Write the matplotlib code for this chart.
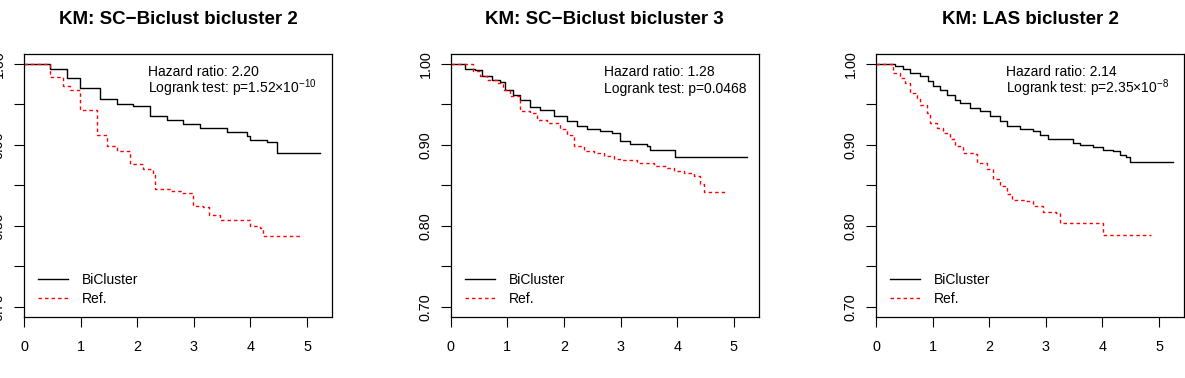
import matplotlib
matplotlib.use("Agg")
import matplotlib.pyplot as plt

plt.rcParams['font.family'] = ['Liberation Sans', 'DejaVu Sans']
plt.rcParams['mathtext.fontset'] = 'custom'
plt.rcParams['mathtext.rm'] = 'Liberation Sans'
plt.rcParams['mathtext.it'] = 'Liberation Sans'
plt.rcParams['mathtext.bf'] = 'Liberation Sans:bold'

titles = ["KM: SC\u2212Biclust bicluster 2", "KM: SC\u2212Biclust bicluster 3", "KM: LAS bicluster 2"]
hazard_text = ["Hazard ratio: 2.20", "Hazard ratio: 1.28", "Hazard ratio: 2.14"]
logrank_text = [r"Logrank test: p=1.52$\times$10$^{-10}$",
                "Logrank test: p=0.0468",
                r"Logrank test: p=2.35$\times$10$^{-8}$"]
legend_labels = ["BiCluster", "Ref."]

# Panel 1: SC-Biclust bicluster 2
p1_bic_t = [0, 0.25, 0.46, 0.754, 0.989, 1.343, 1.637, 1.932, 2.226, 2.52, 2.815, 3.11, 3.58, 3.93, 3.99, 4.29, 4.46, 5.22]
p1_bic_s = [1.0, 1.0, 0.9934, 0.9823, 0.970, 0.9569, 0.950, 0.9475, 0.9360, 0.9310, 0.9261, 0.9204, 0.9154, 0.9113, 0.9064, 0.9039, 0.890, 0.890]
p1_ref_t = [0, 0.25, 0.46, 0.695, 0.813, 0.989, 1.284, 1.46, 1.637, 1.873, 2.108, 2.285, 2.31, 2.58, 2.79, 2.99, 3.17, 3.26, 3.46, 3.96, 3.99, 4.17, 4.23, 4.88]
p1_ref_s = [1.0, 1.0, 0.984, 0.972, 0.968, 0.943, 0.912, 0.898, 0.892, 0.876, 0.870, 0.863, 0.845, 0.843, 0.841, 0.824, 0.823, 0.814, 0.807, 0.807, 0.800, 0.798, 0.787, 0.787]

# Panel 2: SC-Biclust bicluster 3
p2_bic_t = [0, 0.195, 0.254, 0.430, 0.548, 0.725, 0.873, 0.961, 1.108, 1.226, 1.403, 1.58, 1.816, 2.052, 2.229, 2.406, 2.642, 2.848, 2.995, 3.172, 3.467, 3.526, 3.88, 3.968, 5.236]
p2_bic_s = [1.0, 1.0, 0.9934, 0.9918, 0.9852, 0.9803, 0.977, 0.968, 0.9619, 0.9557, 0.9467, 0.9434, 0.9352, 0.929, 0.9238, 0.9197, 0.9168, 0.9148, 0.9045, 0.9016, 0.8984, 0.8934, 0.8934, 0.8852, 0.8852]
p2_ref_t = [0, 0.224, 0.401, 0.519, 0.637, 0.814, 0.932, 1.05, 1.226, 1.403, 1.521, 1.698, 1.934, 2.052, 2.17, 2.347, 2.524, 2.7, 2.877, 2.995, 3.29, 3.585, 3.821, 3.939, 4.116, 4.292, 4.41, 4.469, 4.853]
p2_ref_s = [1.0, 1.0, 0.9906, 0.9844, 0.9803, 0.9762, 0.968, 0.9598, 0.9414, 0.9393, 0.9311, 0.927, 0.9189, 0.9127, 0.8984, 0.8922, 0.8902, 0.8861, 0.882, 0.8811, 0.877, 0.8738, 0.8717, 0.8676, 0.8656, 0.8615, 0.8512, 0.8418, 0.8418]

# Panel 3: LAS bicluster 2
p3_bic_t = [0, 0.247, 0.335, 0.482, 0.6, 0.776, 0.924, 1.012, 1.129, 1.247, 1.394, 1.482, 1.659, 1.835, 2.012, 2.188, 2.306, 2.541, 2.776, 2.894, 3.041, 3.247, 3.482, 3.6, 3.835, 4.012, 4.188, 4.306, 4.424, 4.482, 5.247]
p3_bic_s = [1.0, 1.0, 0.9967, 0.9934, 0.9885, 0.9844, 0.9783, 0.9721, 0.968, 0.9619, 0.9557, 0.9516, 0.9455, 0.9414, 0.9352, 0.9291, 0.9238, 0.9197, 0.9168, 0.9127, 0.9074, 0.9066, 0.9025, 0.8992, 0.8975, 0.893, 0.8918, 0.8877, 0.8852, 0.8787, 0.8787]
p3_ref_t = [0, 0.247, 0.306, 0.424, 0.512, 0.6, 0.718, 0.776, 0.894, 0.953, 1.071, 1.188, 1.306, 1.394, 1.541, 1.718, 1.776, 1.953, 2.071, 2.188, 2.306, 2.394, 2.629, 2.776, 2.953, 3.188, 3.247, 3.982, 4.012, 4.865]
p3_ref_s = [1.0, 1.0, 0.9885, 0.9824, 0.9762, 0.9639, 0.9578, 0.9496, 0.9393, 0.927, 0.9209, 0.9148, 0.9066, 0.8984, 0.8902, 0.8881, 0.8779, 0.8697, 0.8574, 0.8492, 0.8389, 0.832, 0.8307, 0.8246, 0.8172, 0.8164, 0.8041, 0.8041, 0.7885, 0.7885]

bic_t = [p1_bic_t, p2_bic_t, p3_bic_t]
bic_s = [p1_bic_s, p2_bic_s, p3_bic_s]
ref_t = [p1_ref_t, p2_ref_t, p3_ref_t]
ref_s = [p1_ref_s, p2_ref_s, p3_ref_s]

x_ticks = [0, 1, 2, 3, 4, 5]
y_ticks = [0.70, 0.75, 0.80, 0.85, 0.90, 0.95, 1.00]
y_tick_labels = ["0.70", "", "0.80", "", "0.90", "", "1.00"]
text_x = [0.4036, 0.4977, 0.422]

W, H = 1185, 378
fig = plt.figure(figsize=(W / 100, H / 100), dpi=100)
lefts = [24, 450.7, 876]
box_w, box_top, box_bot = 308, 54, 316.7

for i in range(3):
    ax = fig.add_axes([lefts[i] / W, (H - box_bot) / H, box_w / W, (box_bot - box_top) / H])
    ax.step(bic_t[i], bic_s[i], where='post', color='black', lw=1.0, label=legend_labels[0])
    ax.step(ref_t[i], ref_s[i], where='post', color='#ff0000', lw=1.0,
            linestyle=(0, (2.5, 2.2)), label=legend_labels[1])
    ax.set_xlim(0, 5.44)
    ax.set_ylim(0.688, 1.012)
    ax.set_xticks(x_ticks)
    ax.set_xticklabels([str(v) for v in x_ticks])
    ax.set_yticks(y_ticks)
    ax.set_yticklabels(y_tick_labels)
    ax.tick_params(axis='both', direction='out', length=7, width=0.8, labelsize=10.4, colors='black')
    ax.tick_params(axis='x', pad=10)
    ax.tick_params(axis='y', pad=6)
    for lab in ax.get_yticklabels():
        lab.set_rotation(90)
        lab.set_va('center')
        lab.set_ha('right')
    for sp in ax.spines.values():
        sp.set_linewidth(0.9)
    ax.set_title(titles[i], fontsize=13.5, fontweight='bold', pad=21.5)
    ax.text(text_x[i], 0.918, hazard_text[i], transform=ax.transAxes, fontsize=10,
            ha='left', va='baseline')
    ax.text(text_x[i], 0.853, logrank_text[i], transform=ax.transAxes, fontsize=10,
            ha='left', va='baseline')
    ax.legend(loc='center left', bbox_to_anchor=(0.0455, 0.104), frameon=False,
              fontsize=10, handlelength=2.15, handletextpad=1.0, labelspacing=0.4,
              borderpad=0, borderaxespad=0)

fig.savefig("out.png", dpi=100)
